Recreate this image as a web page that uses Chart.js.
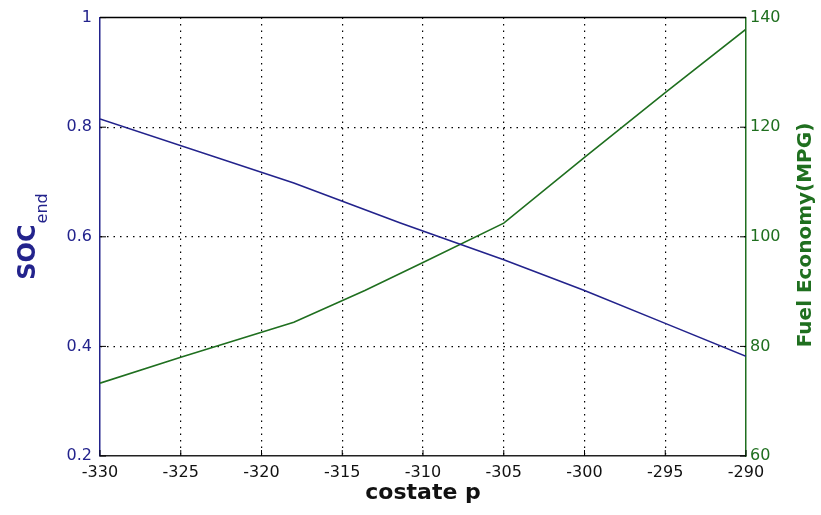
<!DOCTYPE html>
<html><head><meta charset="utf-8">
<script src="https://cdn.jsdelivr.net/npm/chart.js@4.4.0/dist/chart.umd.min.js"></script>
<style>html,body{margin:0;padding:0;background:#fff}#wrap{width:821px;height:515px;position:relative}</style>
</head><body><div id="wrap"><canvas id="c" width="821" height="515"></canvas></div>
<script>
const costateSOC = [-330, -318, -311.4, -305, -300, -295, -290];
const socEnd = [0.815, 0.698, 0.625, 0.558, 0.502, 0.442, 0.382];
const costateMPG = [-330, -325, -318, -313.6, -310, -305, -300, -295, -290];
const fuelEconomy = [73.3, 78.0, 84.4, 90.2, 95.3, 102.5, 114.5, 126.3, 137.9];
const xTicks = [-330, -325, -320, -315, -310, -305, -300, -295, -290];
const socTicks = [0.2, 0.4, 0.6, 0.8, 1];
const mpgTicks = [60, 80, 100, 120, 140];

const BLUE = '#23238c', GREEN = '#1f6f1f';
const TICKFONT = '"DejaVu Sans", Verdana, sans-serif';
const TITLEFONT = '"DejaVu Sans", Verdana, sans-serif';

function edgeColor(min, max) {
  return c => (c.tick && (Math.abs(c.tick.value - min) < 1e-9 || Math.abs(c.tick.value - max) < 1e-9)) ? 'rgba(0,0,0,0)' : '#000';
}

const decor = {
  id: 'decor',
  afterDraw(chart) {
    const {ctx, chartArea: a} = chart;
    ctx.save();
    ctx.setLineDash([]);
    ctx.strokeStyle = '#000'; ctx.lineWidth = 1.5;
    ctx.beginPath(); ctx.moveTo(a.left, a.top); ctx.lineTo(a.right, a.top); ctx.stroke();
    const xs = chart.scales.x, yl = chart.scales.y, yr = chart.scales.y2;
    ctx.lineWidth = 1; ctx.strokeStyle = '#000';
    xTicks.forEach(v => { const px = xs.getPixelForValue(v);
      ctx.beginPath(); ctx.moveTo(px, a.bottom); ctx.lineTo(px, a.bottom - 6); ctx.stroke(); });
    socTicks.forEach(v => { const py = yl.getPixelForValue(v);
      ctx.beginPath(); ctx.moveTo(a.left, py); ctx.lineTo(a.left + 6, py); ctx.stroke(); });
    mpgTicks.forEach(v => { const py = yr.getPixelForValue(v);
      ctx.beginPath(); ctx.moveTo(a.right, py); ctx.lineTo(a.right - 6, py); ctx.stroke(); });
    ctx.restore();

    // x axis title
    ctx.save();
    ctx.fillStyle = '#111';
    ctx.font = 'bold 22px ' + TITLEFONT;
    ctx.textAlign = 'center'; ctx.textBaseline = 'alphabetic';
    ctx.fillText('costate p', (a.left + a.right) / 2, 499);
    ctx.restore();

    // right title
    ctx.save();
    ctx.fillStyle = GREEN;
    ctx.translate(811, 235);
    ctx.rotate(-Math.PI / 2);
    ctx.font = 'bold 20px ' + TITLEFONT;
    ctx.textAlign = 'center'; ctx.textBaseline = 'alphabetic';
    ctx.fillText('Fuel Economy(MPG)', 0, 0);
    ctx.restore();

    // SOC_end title
    ctx.save();
    ctx.fillStyle = BLUE;
    ctx.translate(35, 237);
    ctx.rotate(-Math.PI / 2);
    ctx.font = 'bold 24px ' + TITLEFONT;
    const w1 = ctx.measureText('SOC').width;
    ctx.font = '16px ' + TITLEFONT;
    const w2 = ctx.measureText('end').width;
    const start = -(w1 + w2) / 2;
    ctx.textBaseline = 'alphabetic'; ctx.textAlign = 'left';
    ctx.font = 'bold 24px ' + TITLEFONT;
    ctx.fillText('SOC', start, 0);
    ctx.font = '16px ' + TITLEFONT;
    ctx.fillText('end', start + w1 + 1, 12);
    ctx.restore();
  }
};

new Chart(document.getElementById('c'), {
  type: 'scatter',
  data: {
    datasets: [
      { label: 'SOC_end', data: costateSOC.map((x, i) => ({x, y: socEnd[i]})), yAxisID: 'y',
        showLine: true, borderColor: BLUE, borderWidth: 1.6, pointRadius: 0, tension: 0 },
      { label: 'Fuel Economy', data: costateMPG.map((x, i) => ({x, y: fuelEconomy[i]})), yAxisID: 'y2',
        showLine: true, borderColor: GREEN, borderWidth: 1.6, pointRadius: 0, tension: 0 }
    ]
  },
  options: {
    responsive: false, animation: false, devicePixelRatio: 1,
    layout: { padding: { top: 16, left: 0, right: 0, bottom: 0 } },
    plugins: { legend: { display: false }, tooltip: { enabled: false } },
    scales: {
      x: {
        type: 'linear', min: -330, max: -290,
        afterBuildTicks: s => { s.ticks = xTicks.map(v => ({value: v})); },
        afterFit: s => { s.height = 59; },
        ticks: { color: '#111', font: { family: TICKFONT, size: 16 }, padding: 7 },
        grid: { color: edgeColor(-330, -290), lineWidth: 1.2, drawTicks: false },
        border: { color: '#222', width: 1.5, dash: [1.5, 5] }
      },
      y: {
        type: 'linear', position: 'left', min: 0.2, max: 1,
        afterBuildTicks: s => { s.ticks = socTicks.map(v => ({value: v})); },
        afterFit: s => { s.width = 100; },
        ticks: { color: BLUE, font: { family: TICKFONT, size: 16 }, padding: 8, callback: v => String(+v.toFixed(1)) },
        grid: { color: edgeColor(0.2, 1), lineWidth: 1.2, drawTicks: false },
        border: { color: BLUE, width: 1.5, dash: [1.5, 5] }
      },
      y2: {
        type: 'linear', position: 'right', min: 60, max: 140,
        afterBuildTicks: s => { s.ticks = mpgTicks.map(v => ({value: v})); },
        afterFit: s => { s.width = 75; },
        ticks: { color: GREEN, font: { family: TICKFONT, size: 16 }, padding: 4 },
        grid: { display: false, drawTicks: false },
        border: { color: GREEN, width: 1.5 }
      }
    }
  },
  plugins: [decor]
});
</script></body></html>
